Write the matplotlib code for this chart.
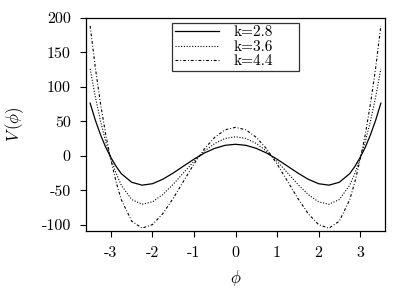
"""
plot.py

Potential V(phi) for three values of k, redrawn with matplotlib.
Saves the figure as out.png (415x288 px).
"""

import matplotlib
matplotlib.use("Agg")
import matplotlib.pyplot as plt

# phi sample points (denser near the steep ends)
phi = [-3.5, -3.375, -3.25, -3.125, -3.0, -2.875, -2.75, -2.5, -2.25, -2.0,
       -1.75, -1.5, -1.25, -1.0, -0.75, -0.5, -0.25, 0.0, 0.25, 0.5,
       0.75, 1.0, 1.25, 1.5, 1.75, 2.0, 2.25, 2.5, 2.75, 2.875,
       3.0, 3.125, 3.25, 3.375, 3.5]

# V(phi) for each k
v_k28 = [76.4, 51.7, 30.6, 12.5, -2.4, -15.3, -25.8, -38.3, -42.5, -40.4,
         -33.9, -24.9, -14.8, -4.8, 4.1, 10.9, 15.3, 16.8, 15.3, 10.9,
         4.1, -4.8, -14.8, -24.9, -33.9, -40.4, -42.5, -38.3, -25.8, -15.3,
         -2.4, 12.5, 30.6, 51.7, 76.4]
v_k36 = [126.2, 85.5, 50.5, 20.7, -3.9, -25.3, -42.6, -63.4, -70.2, -66.7,
         -56.1, -41.2, -24.5, -7.9, 6.7, 18.0, 25.3, 27.7, 25.3, 18.0,
         6.7, -7.9, -24.5, -41.2, -56.1, -66.7, -70.2, -63.4, -42.6, -25.3,
         -3.9, 20.7, 50.5, 85.5, 126.2]
v_k44 = [188.6, 127.8, 75.5, 31.0, -5.8, -37.8, -63.7, -94.7, -104.9, -99.7,
         -83.8, -61.6, -36.6, -11.8, 10.1, 26.9, 37.8, 41.4, 37.8, 26.9,
         10.1, -11.8, -36.6, -61.6, -83.8, -99.7, -104.9, -94.7, -63.7, -37.8,
         -5.8, 31.0, 75.5, 127.8, 188.6]

labels = ["k=2.8", "k=3.6", "k=4.4"]
x_ticks = [-3, -2, -1, 0, 1, 2, 3]
y_ticks = [-100, -50, 0, 50, 100, 150, 200]

plt.rcParams["font.family"] = "serif"
plt.rcParams["font.serif"] = ["cmr10", "DejaVu Serif"]
plt.rcParams["mathtext.fontset"] = "cm"
plt.rcParams["axes.unicode_minus"] = False
plt.rcParams["axes.formatter.use_mathtext"] = True


def plot_potential():
    fig = plt.figure(figsize=(4.15, 2.88), dpi=100)
    ax = fig.add_axes([86 / 415, 1 - 231 / 288, 299 / 415, 213 / 288])

    ax.plot(phi, v_k28, color="black", lw=0.9, linestyle="-", label=labels[0])
    ax.plot(phi, v_k36, color="black", lw=0.8, linestyle=(0, (1, 1.5)), label=labels[1])
    ax.plot(phi, v_k44, color="black", lw=0.8, linestyle=(0, (2.5, 1.8, 0.8, 1.8)), label=labels[2])

    ax.set_xlim(-3.6, 3.6)
    ax.set_ylim(-109, 200)
    ax.set_xticks(x_ticks)
    ax.set_xticklabels([str(t) for t in x_ticks])
    ax.set_yticks(y_ticks)
    ax.set_yticklabels([str(t) for t in y_ticks])
    ax.tick_params(direction="out", length=4, width=0.8, labelsize=11.5,
                   top=False, right=False)
    ax.tick_params(axis="x", pad=7)
    ax.tick_params(axis="y", pad=7)
    for s in ax.spines.values():
        s.set_linewidth(0.9)

    ax.set_xlabel(r"$\phi$", fontsize=12, labelpad=6)
    ax.set_ylabel(r"$V\,(\phi)$", fontsize=12, labelpad=11)

    # legend box stretched to the width seen in the reference
    leg = ax.legend(loc="upper left", bbox_to_anchor=(86 / 299, 0.5, 127 / 299, 1 - 4.7 / 213 - 0.5),
                    mode="expand", borderaxespad=0, fancybox=False, fontsize=11,
                    handlelength=2.9, handletextpad=0.9, labelspacing=0.05,
                    borderpad=0.2, framealpha=1)
    leg.get_frame().set_edgecolor("#333333")
    leg.get_frame().set_linewidth(0.9)

    fig.savefig("out.png", dpi=100)


if __name__ == "__main__":
    plot_potential()
